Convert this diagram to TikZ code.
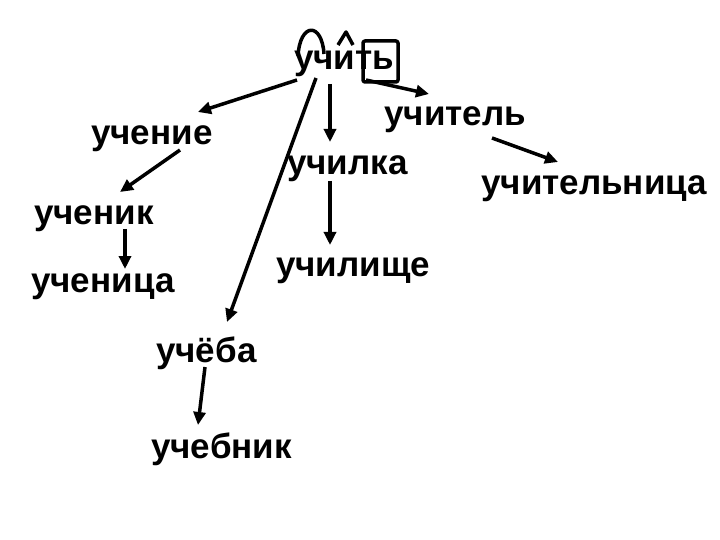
\documentclass[tikz,border=0pt]{standalone}
\usepackage{fontspec}
\setmainfont{Liberation Sans}
\usepackage{tikz}
\usetikzlibrary{
  arrows.meta,
  calc
}
\tikzset{
  word/.style={anchor=base west,inner sep=0pt,font=\fontsize{35}{40}\selectfont\bfseries},
  derive/.style={line width=3.5pt,-{Triangle[length=13pt,width=12pt]}},
  morph/.style={line width=3.5pt,line join=round},
}
\colorlet{ink}{black}

\begin{document}
\begin{tikzpicture}[x=1pt,y=-1pt,ink]
\useasboundingbox (0,0) rectangle (720,540);
\foreach \nm/\x/\y/\txt in {
  uchit/294/70/учить,
  uchenie/91/145/учение,
  uchenik/34/225/ученик,
  uchenica/31/292/ученица,
  ucheba/156/362/учёба,
  uchebnik/151/458/учебник,
  uchilka/287/175/училка,
  uchilishche/276/276/училище,
  uchitel/384/126/учитель,
  uchitelnica/481/195/учительница}
{
  \node[word] (\nm) at (\x,\y) {\txt};
}
% morpheme marks over the root word
\draw[morph] (298,56) .. controls (300,22) and (322,22) .. (324,54);
\draw[morph] (338,45) -- (346,32) -- (353,45);
\draw[morph,rounded corners=2pt] (363,41) rectangle (398,82);
% derivations
\draw[derive] ($(uchit.base west)+(3,10)$) -- ($(uchenie.base west)+(107,-33)$);
\draw[derive] ($(uchit.base west)+(22,8)$) -- ($(ucheba.base west)+(71,-40)$);
\draw[derive] ($(uchit.base west)+(36,14)$) -- ($(uchilka.base west)+(43,-33)$);
\draw[derive] ($(uchit.base west)+(72,10)$) -- ($(uchitel.base west)+(45,-32)$);
\draw[derive] ($(uchitel.base west)+(108,12)$) -- ($(uchitelnica.base west)+(77,-33)$);
\draw[derive] ($(uchilka.base west)+(43,6)$) -- ($(uchilishche.base west)+(54,-31)$);
\draw[derive] ($(uchenie.base west)+(89,5)$) -- ($(uchenik.base west)+(86,-33)$);
\draw[derive] ($(uchenik.base west)+(91,4)$) -- ($(uchenica.base west)+(94,-23)$);
\draw[derive] ($(ucheba.base west)+(49,5)$) -- ($(uchebnik.base west)+(47,-33)$);
\end{tikzpicture}
\end{document}
